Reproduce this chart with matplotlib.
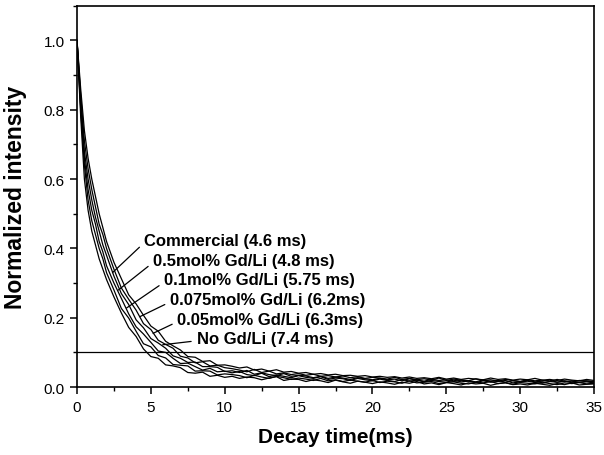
import matplotlib
matplotlib.use("Agg")
import matplotlib.pyplot as plt
from matplotlib.ticker import MultipleLocator

plt.rcParams['font.family'] = ['Liberation Sans', 'DejaVu Sans']

# sampling times (ms)
t_head = [0, 0.25, 0.5, 0.75, 1.0, 1.25, 1.5, 1.75, 2.0,
          2.5, 3.0, 3.5, 4.0, 4.5, 5.0, 5.5, 6.0, 6.5, 7.0, 7.5,
          8.0, 8.5, 9.0, 9.5, 10.0]
t_tail = [10.5, 11.0, 11.5, 12.0, 12.5, 13.0, 13.5, 14.0, 14.5, 15.0,
          15.5, 16.0, 16.5, 17.0, 17.5, 18.0, 18.5, 19.0, 19.5, 20.0,
          20.5, 21.0, 21.5, 22.0, 22.5, 23.0, 23.5, 24.0, 24.5, 25.0,
          25.5, 26.0, 26.5, 27.0, 27.5, 28.0, 28.5, 29.0, 29.5, 30.0,
          30.5, 31.0, 31.5, 32.0, 32.5, 33.0, 33.5, 34.0, 34.5, 35.0]

# normalized intensity
commercial_head = [1.00, 0.78, 0.60, 0.51, 0.45, 0.41, 0.37, 0.34, 0.31, 0.26,
                   0.214, 0.172, 0.146, 0.110, 0.088, 0.083, 0.064, 0.061, 0.056, 0.042,
                   0.040, 0.043, 0.031, 0.034, 0.028]
commercial_tail = [0.031, 0.025, 0.029, 0.027, 0.021, 0.026, 0.030, 0.019, 0.023, 0.022,
                   0.016, 0.021, 0.018, 0.013, 0.020, 0.015, 0.011, 0.017, 0.014, 0.010,
                   0.015, 0.012, 0.008, 0.014, 0.011, 0.016, 0.009, 0.012, 0.007, 0.013,
                   0.010, 0.006, 0.012, 0.009, 0.011, 0.005, 0.010, 0.013, 0.007, 0.009,
                   0.006, 0.011, 0.008, 0.005, 0.010, 0.007, 0.012, 0.006, 0.008, 0.009]

gd05_head = [1.00, 0.80, 0.64, 0.54, 0.48, 0.44, 0.40, 0.37, 0.33, 0.28,
             0.227, 0.199, 0.161, 0.125, 0.116, 0.091, 0.084, 0.065, 0.063, 0.061,
             0.046, 0.047, 0.046, 0.035, 0.038]
gd05_tail = [0.036, 0.033, 0.027, 0.034, 0.029, 0.025, 0.031, 0.027, 0.022, 0.026,
             0.023, 0.019, 0.025, 0.018, 0.021, 0.016, 0.020, 0.017, 0.014, 0.019,
             0.013, 0.017, 0.015, 0.011, 0.018, 0.012, 0.014, 0.016, 0.010, 0.013,
             0.015, 0.011, 0.009, 0.014, 0.012, 0.016, 0.010, 0.012, 0.008, 0.013,
             0.011, 0.009, 0.014, 0.010, 0.007, 0.012, 0.010, 0.013, 0.009, 0.011]

gd01_head = [1.00, 0.81, 0.66, 0.57, 0.51, 0.47, 0.42, 0.39, 0.35, 0.30,
             0.256, 0.211, 0.174, 0.153, 0.129, 0.104, 0.100, 0.083, 0.068, 0.069,
             0.059, 0.049, 0.054, 0.044, 0.046]
gd01_tail = [0.041, 0.045, 0.036, 0.033, 0.040, 0.030, 0.035, 0.031, 0.027, 0.033,
             0.028, 0.025, 0.030, 0.022, 0.026, 0.024, 0.019, 0.025, 0.021, 0.018,
             0.023, 0.019, 0.016, 0.022, 0.017, 0.020, 0.015, 0.019, 0.016, 0.014,
             0.020, 0.015, 0.017, 0.013, 0.018, 0.014, 0.016, 0.019, 0.012, 0.015,
             0.017, 0.013, 0.011, 0.016, 0.014, 0.018, 0.012, 0.014, 0.015, 0.012]

gd0075_head = [1.00, 0.83, 0.68, 0.60, 0.54, 0.49, 0.45, 0.41, 0.38, 0.32,
               0.270, 0.238, 0.194, 0.171, 0.140, 0.127, 0.112, 0.090, 0.083, 0.071,
               0.072, 0.059, 0.059, 0.057, 0.045]
gd0075_tail = [0.047, 0.042, 0.048, 0.037, 0.041, 0.036, 0.033, 0.039, 0.031, 0.034,
               0.032, 0.027, 0.031, 0.025, 0.029, 0.026, 0.022, 0.027, 0.024, 0.021,
               0.025, 0.021, 0.023, 0.018, 0.024, 0.020, 0.017, 0.022, 0.019, 0.021,
               0.016, 0.020, 0.018, 0.015, 0.021, 0.017, 0.019, 0.014, 0.018, 0.016,
               0.019, 0.015, 0.017, 0.020, 0.014, 0.016, 0.018, 0.013, 0.017, 0.015]

gd005_head = [1.00, 0.84, 0.71, 0.63, 0.57, 0.52, 0.47, 0.44, 0.40, 0.34,
              0.286, 0.253, 0.222, 0.183, 0.166, 0.135, 0.123, 0.112, 0.089, 0.084,
              0.070, 0.073, 0.061, 0.063, 0.056]
gd005_tail = [0.053, 0.049, 0.044, 0.051, 0.042, 0.046, 0.038, 0.041, 0.036, 0.039,
              0.034, 0.037, 0.031, 0.033, 0.029, 0.032, 0.027, 0.030, 0.025, 0.028,
              0.026, 0.023, 0.028, 0.022, 0.025, 0.021, 0.024, 0.020, 0.026, 0.019,
              0.023, 0.020, 0.018, 0.024, 0.019, 0.021, 0.017, 0.022, 0.019, 0.016,
              0.021, 0.018, 0.020, 0.016, 0.022, 0.017, 0.015, 0.019, 0.018, 0.016]

nogd_head = [1.00, 0.86, 0.74, 0.66, 0.60, 0.55, 0.50, 0.46, 0.42, 0.36,
             0.313, 0.266, 0.240, 0.207, 0.176, 0.161, 0.132, 0.119, 0.107, 0.088,
             0.086, 0.074, 0.076, 0.063, 0.064]
nogd_tail = [0.060, 0.055, 0.058, 0.049, 0.052, 0.046, 0.050, 0.043, 0.045, 0.040,
             0.042, 0.037, 0.039, 0.035, 0.037, 0.033, 0.034, 0.031, 0.033, 0.029,
             0.031, 0.028, 0.030, 0.026, 0.029, 0.025, 0.027, 0.024, 0.028, 0.023,
             0.026, 0.022, 0.025, 0.023, 0.021, 0.026, 0.022, 0.024, 0.020, 0.023,
             0.021, 0.025, 0.020, 0.022, 0.019, 0.023, 0.020, 0.018, 0.022, 0.019]

labels = ["Commercial (4.6 ms)", "0.5mol% Gd/Li (4.8 ms)", "0.1mol% Gd/Li (5.75 ms)",
          "0.075mol% Gd/Li (6.2ms)", "0.05mol% Gd/Li (6.3ms)", "No Gd/Li (7.4 ms)"]
# where each label sits and which point of its curve it points to
label_xy = [(4.55, 0.423), (5.15, 0.366), (5.9, 0.309), (6.3, 0.252), (6.8, 0.195), (8.1, 0.140)]
arrow_xy = [(2.4, 0.33), (2.8, 0.28), (3.35, 0.228), (4.25, 0.203), (5.15, 0.155), (5.8, 0.122)]
threshold = 0.1

t_all = t_head + t_tail
curves = [commercial_head + commercial_tail, gd05_head + gd05_tail, gd01_head + gd01_tail,
          gd0075_head + gd0075_tail, gd005_head + gd005_tail, nogd_head + nogd_tail]

fig = plt.figure(figsize=(6.04, 4.56), dpi=100)
ax = fig.add_axes([0.1275, 0.149, 0.856, 0.836])

for y in curves:
    ax.plot(t_all, y, color='black', lw=0.9)

ax.axhline(threshold, color='black', lw=0.9)

for txt, (lx, ly), (px, py) in zip(labels, label_xy, arrow_xy):
    ax.annotate(txt, xy=(px, py), xytext=(lx, ly), fontsize=12, fontweight='bold',
                va='center', ha='left',
                arrowprops=dict(arrowstyle='-', color='black', lw=0.9,
                                relpos=(0, 0.35), shrinkA=2, shrinkB=0))

ax.set_xlim(0, 35)
ax.set_ylim(0, 1.1)
ax.xaxis.set_major_locator(MultipleLocator(5))
ax.xaxis.set_minor_locator(MultipleLocator(2.5))
ax.yaxis.set_major_locator(MultipleLocator(0.2))
ax.yaxis.set_minor_locator(MultipleLocator(0.1))
ax.yaxis.set_major_formatter(plt.FuncFormatter(lambda v, p: f"{v:.1f}"))
ax.tick_params(which='major', direction='out', length=5, width=1.1, labelsize=11, pad=4)
ax.tick_params(which='minor', direction='out', length=3, width=1.0)
for s in ax.spines.values():
    s.set_linewidth(1.2)

ax.set_xlabel("Decay time(ms)", fontsize=15, fontweight='bold', labelpad=10)
ax.set_ylabel("Normalized intensity", fontsize=16.5, fontweight='bold', labelpad=12)

plt.savefig("out.png", dpi=100)
